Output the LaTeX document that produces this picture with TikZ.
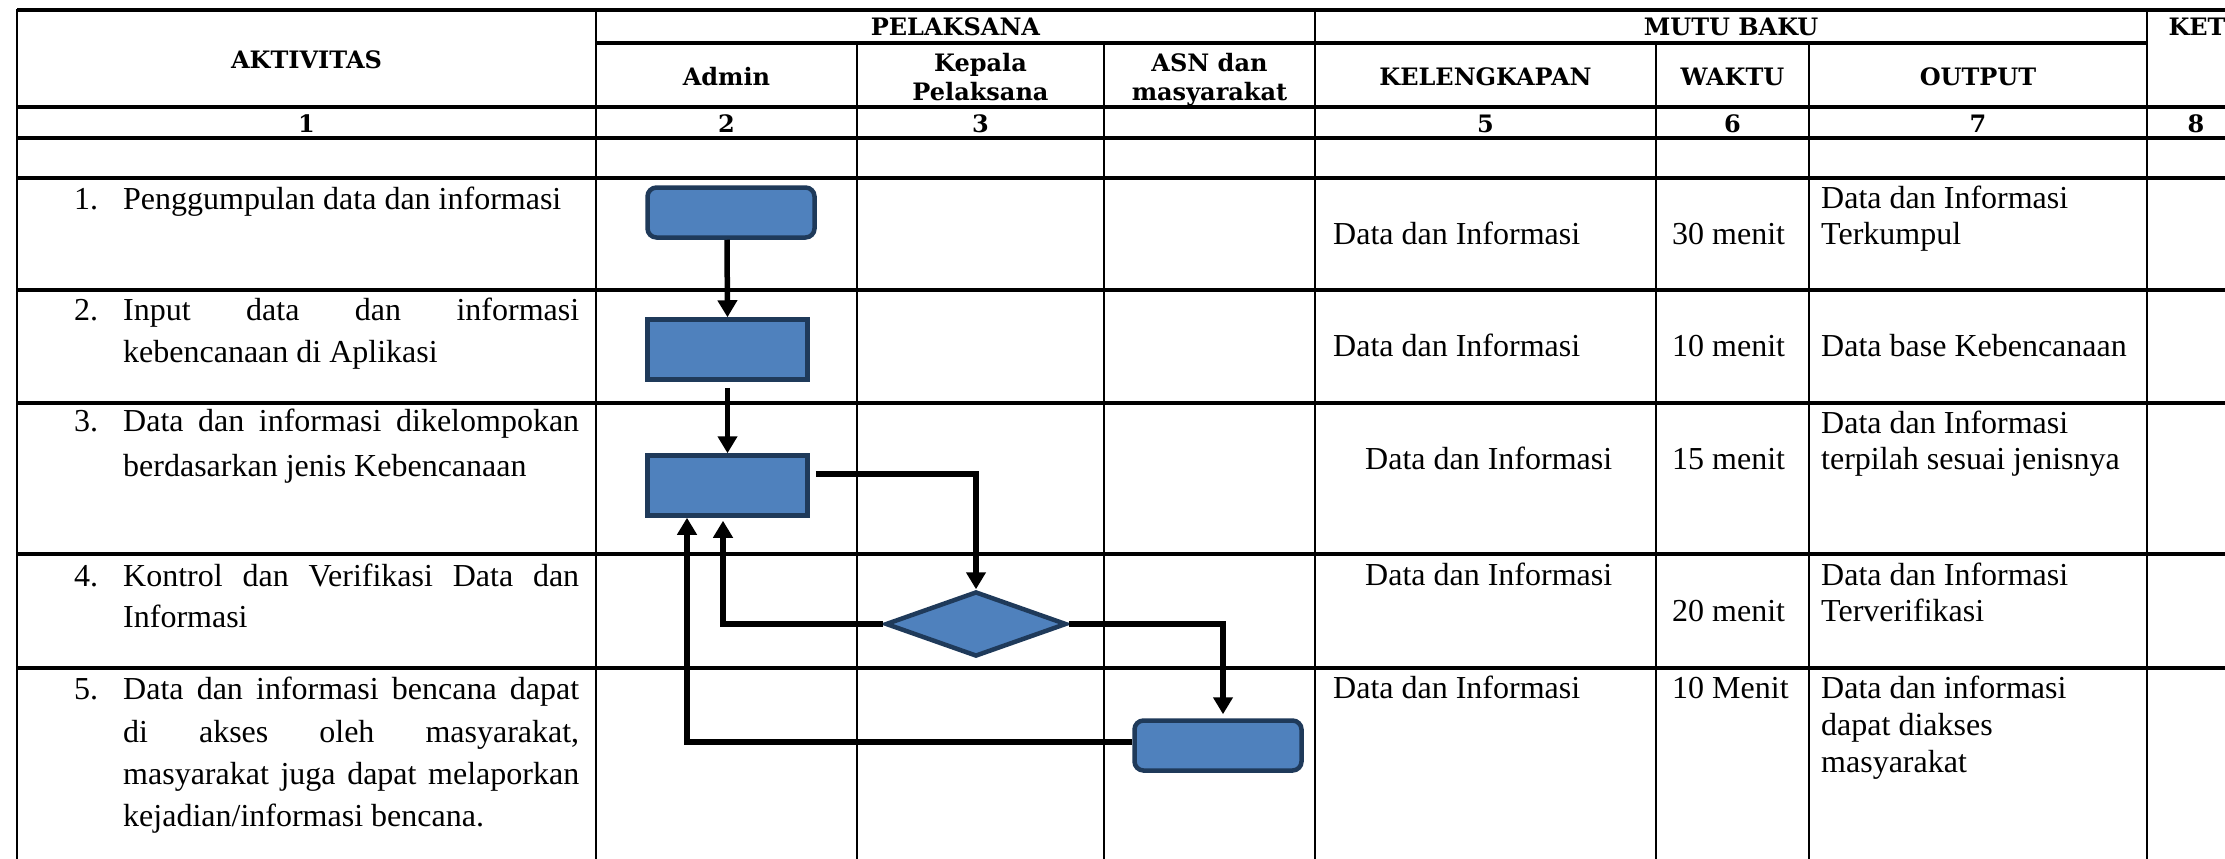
\documentclass[tikz,border=0pt]{standalone}
\usepackage{fontspec}
\setmainfont{Liberation Serif}
\newfontfamily\hfont{DejaVu Serif}
\usetikzlibrary{shapes.geometric,arrows.meta}
\definecolor{boxblue}{HTML}{4F81BD}
\definecolor{boxline}{HTML}{1F3A5A}
\newcommand{\jline}[1]{\makebox[456pt][s]{#1}}
\begin{document}
\begin{tikzpicture}[x=1pt,y=-1pt,
  hl/.style={line width=3.4pt},
  vl/.style={line width=2.4pt},
  proc/.style={draw=boxline, fill=boxblue, line width=4.5pt, inner sep=0pt, minimum width=160pt, minimum height=60pt},
  rproc/.style={proc, rounded corners=9pt, minimum width=167pt, minimum height=50pt},
  dec/.style={diamond, draw=boxline, fill=boxblue, line width=4.5pt, inner sep=0pt, minimum width=181pt, minimum height=65pt},
  conn/.style={line width=5.5pt, -{Triangle[length=17pt,width=19pt]}},
  hd/.style={font=\hfont\bfseries\fontsize{24}{30}\selectfont, inner sep=0pt, anchor=base},
  bt/.style={font=\fontsize{32}{38}\selectfont, inner sep=0pt, anchor=base west}]
\useasboundingbox (0,0) rectangle (2225,859);
\fill[white] (0,0) rectangle (2225,859);
% table grid
\draw[hl] (17,10) -- (2225,10);
\draw[hl] (596,43) -- (2147,43);
\foreach \y in {107,138,178,290,403,554,668} \draw[hl] (17,\y) -- (2225,\y);
\foreach \x in {17,596,1315,2147} \draw[vl] (\x,9) -- (\x,859);
\foreach \x in {857,1104,1656,1809} \draw[vl] (\x,43) -- (\x,859);
% headers
\node[hd] (hAkt) at (306.5,69) {AKTIVITAS};
\node[hd] (hPel) at (955.5,36) {PELAKSANA};
\node[hd] (hMut) at (1731,36) {MUTU BAKU};
\node[hd] (hKet) at (2197,36) {KET};
\node[hd] (hAdm) at (726.5,85) {Admin};
\node[hd] (hKepA) at (980.5,71) {Kepala};
\node[hd] (hKepB) at (980.5,100) {Pelaksana};
\node[hd] (hAsnA) at (1209.5,71) {ASN dan};
\node[hd] (hAsnB) at (1209.5,100) {masyarakat};
\node[hd] (hKel) at (1485.5,85) {KELENGKAPAN};
\node[hd] (hWak) at (1732.5,85) {WAKTU};
\node[hd] (hOut) at (1978,85) {OUTPUT};
\node[hd] (n1) at (306.5,132) {1};
\node[hd] (n2) at (726.5,132) {2};
\node[hd] (n3) at (980.5,132) {3};
\node[hd] (n5) at (1485.5,132) {5};
\node[hd] (n6) at (1732.5,132) {6};
\node[hd] (n7) at (1978,132) {7};
\node[hd] (n8) at (2196,132) {8};
% activities
\node[bt] (k1) at (74,209) {1.};
\node[bt] (a1) at (123,209) {Penggumpulan data dan informasi};
\node[bt] (k2) at (74,320) {2.};
\node[bt] (a2a) at (123,320) {\jline{Input data dan informasi}};
\node[bt] (a2b) at (123,362) {kebencanaan di Aplikasi};
\node[bt] (k3) at (74,431) {3.};
\node[bt] (a3a) at (123,431) {\jline{Data dan informasi dikelompokan}};
\node[bt] (a3b) at (123,476) {berdasarkan jenis Kebencanaan};
\node[bt] (k4) at (74,586) {4.};
\node[bt] (a4a) at (123,586) {\jline{Kontrol dan Verifikasi Data dan}};
\node[bt] (a4b) at (123,627) {Informasi};
\node[bt] (k5) at (74,699) {5.};
\node[bt] (a5a) at (123,699) {\jline{Data dan informasi bencana dapat}};
\node[bt] (a5b) at (123,742) {\jline{di akses oleh masyarakat,}};
\node[bt] (a5c) at (123,784) {\jline{masyarakat juga dapat melaporkan}};
\node[bt] (a5d) at (123,826) {kejadian/informasi bencana.};
% kelengkapan
\node[bt] (c1) at (1333,244) {Data dan Informasi};
\node[bt] (c2) at (1333,356) {Data dan Informasi};
\node[bt] (c3) at (1365,469) {Data dan Informasi};
\node[bt] (c4) at (1365,585) {Data dan Informasi};
\node[bt] (c5) at (1333,698) {Data dan Informasi};
% waktu
\node[bt] (w1) at (1672,244) {30 menit};
\node[bt] (w2) at (1672,356) {10 menit};
\node[bt] (w3) at (1672,469) {15 menit};
\node[bt] (w4) at (1672,621) {20 menit};
\node[bt] (w5) at (1672,698) {10 Menit};
% output
\node[bt] (o1a) at (1821,208) {Data dan Informasi};
\node[bt] (o1b) at (1821,244) {Terkumpul};
\node[bt] (o2) at (1821,356) {Data base Kebencanaan};
\node[bt] (o3a) at (1821,433) {Data dan Informasi};
\node[bt] (o3b) at (1821,469) {terpilah sesuai jenisnya};
\node[bt] (o4a) at (1821,585) {Data dan Informasi};
\node[bt] (o4b) at (1821,621) {Terverifikasi};
\node[bt] (o5a) at (1821,698) {Data dan informasi};
\node[bt] (o5b) at (1821,735) {dapat diakses};
\node[bt] (o5c) at (1821,772) {masyarakat};
% flow shapes
\node[rproc] (b1) at (731,212.5) {};
\node[proc] (b2) at (727.5,349.5) {};
\node[proc] (b3) at (727.5,485.5) {};
\node[dec] (d4) at (976,624) {};
\node[rproc] (b5) at (1218,745.5) {};
% connectors
\draw[conn] ([xshift=-4pt]b1.south) -- (b2.north);
\draw[conn, shorten <=6pt] (b2.south) -- (b3.north);
\draw[conn] ([xshift=6pt,yshift=11.5pt]b3.east) -| (d4.north);
\draw[conn, shorten >=3pt] (d4.west) -| ([xshift=-4.5pt]b3.south);
\draw[conn, shorten >=4pt] (d4.east) -| ([xshift=5pt]b5.north);
\draw[conn] ([yshift=3.5pt]b5.west) -| ([xshift=-40.5pt]b3.south);
\end{tikzpicture}
\end{document}
